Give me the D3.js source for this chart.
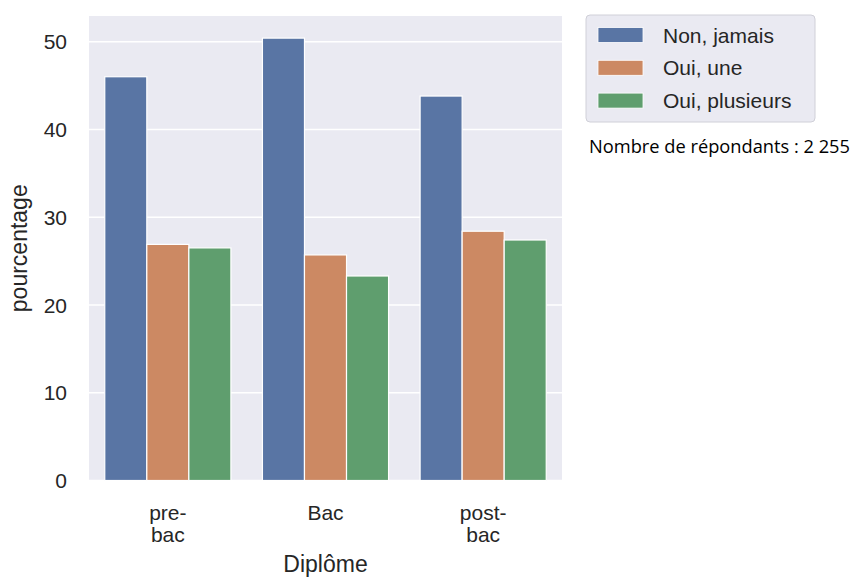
<!DOCTYPE html>
<html><head><meta charset="utf-8">
<script src="https://cdn.jsdelivr.net/npm/d3@7"></script>
<style>body{margin:0;background:#fff}</style>
</head><body>
<svg id="c" width="853" height="577"></svg>
<script>
const categories = ["pre-\nbac", "Bac", "post-\nbac"];
const seriesNames = ["Non, jamais", "Oui, une", "Oui, plusieurs"];
const nonJamais = [46.0, 50.4, 43.8];
const ouiUne = [26.9, 25.7, 28.4];
const ouiPlusieurs = [26.5, 23.3, 27.4];
const yTicks = [0, 10, 20, 30, 40, 50];
const colors = ["#5975a4", "#cc8963", "#5f9e6e"];
const seriesValues = [nonJamais, ouiUne, ouiPlusieurs];

const svg = d3.select("#c");
const mLeft = 89, mRight = 562, mTop = 16, mBottom = 480.5;
const font = "'Liberation Sans', Arial, sans-serif";

const x = d3.scaleBand().domain(d3.range(categories.length)).range([mLeft, mRight]).padding(0);
const inner = d3.scaleBand().domain(d3.range(seriesNames.length))
  .range([x.bandwidth()*0.1, x.bandwidth()*0.9]).padding(0);
const y = d3.scaleLinear().domain([0, d3.max(nonJamais)*1.05]).range([mBottom, mTop]);

svg.append("rect").attr("x", mLeft).attr("y", mTop).attr("width", mRight-mLeft).attr("height", mBottom-mTop).attr("fill", "#eaeaf2");

svg.append("g").selectAll("line").data(yTicks).join("line")
  .attr("x1", mLeft).attr("x2", mRight).attr("y1", d=>y(d)).attr("y2", d=>y(d))
  .attr("stroke", "#fff").attr("stroke-width", 1.5);

seriesValues.forEach((vals, s) => {
  svg.append("g").selectAll("rect").data(vals).join("rect")
    .attr("x", (d,i)=>x(i)+inner(s))
    .attr("width", inner.bandwidth())
    .attr("y", d=>y(d))
    .attr("height", d=>y(0)-y(d))
    .attr("fill", colors[s]).attr("stroke", "#fff").attr("stroke-width", 1.2);
});

svg.append("g").selectAll("text").data(yTicks).join("text")
  .attr("x", 67).attr("y", d=>y(d)).attr("dy", "0.36em")
  .attr("text-anchor", "end").attr("font-family", font).attr("font-size", 21).attr("fill", "#262626")
  .text(d=>d);

const xt = svg.append("g").selectAll("text").data(categories).join("text")
  .attr("text-anchor", "middle").attr("font-family", font).attr("font-size", 21).attr("fill", "#262626")
  .attr("transform", (d,i)=>`translate(${x(i)+x.bandwidth()/2},519.5)`);
xt.each(function(d){
  const t = d3.select(this);
  d.split("\n").forEach((line, k) => {
    t.append("tspan").attr("x", 0).attr("y", k*22.5).text(line);
  });
});

svg.append("text").attr("x", (mLeft+mRight)/2).attr("y", 572).attr("text-anchor", "middle")
  .attr("font-family", font).attr("font-size", 23).attr("fill", "#262626").text("Diplôme");
svg.append("text").attr("transform", `translate(27,${(mTop+mBottom)/2}) rotate(-90)`)
  .attr("text-anchor", "middle").attr("font-family", font).attr("font-size", 23).attr("fill", "#262626").text("pourcentage");

// legend
const lg = svg.append("g");
lg.append("rect").attr("x", 586).attr("y", 15).attr("width", 229).attr("height", 107).attr("rx", 4)
  .attr("fill", "#eaeaf2").attr("stroke", "#d0d0d8").attr("stroke-width", 1);
seriesNames.forEach((n, s) => {
  const cy = 35 + s*32.8;
  lg.append("rect").attr("x", 598).attr("y", cy-7.5).attr("width", 45).attr("height", 15)
    .attr("fill", colors[s]).attr("stroke", "#fff").attr("stroke-width", 0.8);
  lg.append("text").attr("x", 663).attr("y", cy).attr("dy", "0.36em")
    .attr("font-family", font).attr("font-size", 21).attr("fill", "#262626").text(n);
});

svg.append("text").attr("x", 589).attr("y", 153)
  .attr("font-family", "'Open Sans', sans-serif").attr("font-size", 18).attr("fill", "#000")
  .attr("textLength", 261).attr("lengthAdjust", "spacingAndGlyphs")
  .text("Nombre de répondants : 2 255");
</script>
</body></html>
